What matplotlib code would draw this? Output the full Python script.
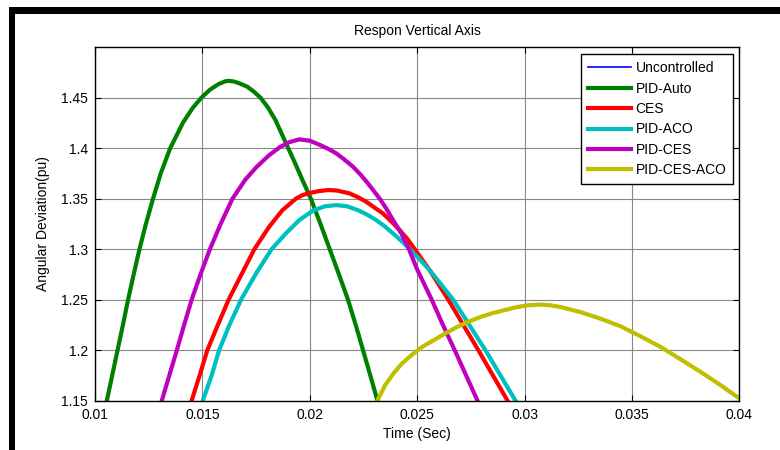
import matplotlib
matplotlib.use("Agg")
import matplotlib.pyplot as plt
from matplotlib.patches import Rectangle

plt.rcParams['font.family'] = ['Liberation Sans', 'DejaVu Sans']

# values (time in s, angular deviation in pu)
t_auto = [0.01055, 0.01080, 0.01105, 0.01130, 0.01154, 0.01180, 0.01207, 0.01237,
          0.01270, 0.01306, 0.01350, 0.01410, 0.01455, 0.01495, 0.01535, 0.01575,
          0.01605, 0.01620, 0.01645, 0.01670, 0.01709, 0.01740, 0.01771, 0.01805,
          0.01840, 0.01870, 0.01900, 0.01930, 0.01965, 0.02005, 0.02050, 0.02093,
          0.02136, 0.02178, 0.02214, 0.02248, 0.02282, 0.02315]
y_auto = [1.150, 1.175, 1.200, 1.225, 1.250, 1.275, 1.300, 1.325,
          1.350, 1.375, 1.400, 1.4255, 1.440, 1.450, 1.458, 1.4635,
          1.4662, 1.4668, 1.4662, 1.4645, 1.461, 1.456, 1.450, 1.4405,
          1.428, 1.414, 1.400, 1.386, 1.369, 1.350, 1.325, 1.300,
          1.275, 1.250, 1.225, 1.200, 1.175, 1.150]

t_ces = [0.01450, 0.01487, 0.01523, 0.01572, 0.01622, 0.01682, 0.01742, 0.01810,
         0.01872, 0.01935, 0.01965, 0.02000, 0.02040, 0.02084, 0.02125, 0.02185,
         0.02225, 0.02263, 0.02300, 0.02341, 0.02380, 0.02419, 0.02455, 0.02489,
         0.02559, 0.02645, 0.02715, 0.02785, 0.02853, 0.02921]
y_ces = [1.150, 1.175, 1.200, 1.225, 1.250, 1.275, 1.300, 1.322,
         1.3385, 1.350, 1.3535, 1.3557, 1.3575, 1.3586, 1.3582, 1.3553,
         1.3515, 1.347, 1.3415, 1.3354, 1.3275, 1.3189, 1.310, 1.300,
         1.279, 1.250, 1.225, 1.200, 1.175, 1.150]

t_aco = [0.01502, 0.01543, 0.01578, 0.01626, 0.01680, 0.01750, 0.01822, 0.01888,
         0.01952, 0.02017, 0.02070, 0.02123, 0.02175, 0.02224, 0.02265, 0.02310,
         0.02350, 0.02388, 0.02428, 0.02466, 0.02512, 0.02559, 0.02612, 0.02668,
         0.02743, 0.02818, 0.02888, 0.02958]
y_aco = [1.150, 1.175, 1.200, 1.225, 1.250, 1.276, 1.300, 1.3155,
         1.329, 1.3385, 1.3425, 1.3437, 1.3425, 1.3387, 1.3345, 1.3288,
         1.3225, 1.3156, 1.308, 1.300, 1.290, 1.279, 1.265, 1.250,
         1.225, 1.200, 1.175, 1.150]

t_pces = [0.01311, 0.01346, 0.01381, 0.01415, 0.01450, 0.01491, 0.01535, 0.01585,
          0.01640, 0.01700, 0.01753, 0.01810, 0.01862, 0.01905, 0.01950, 0.02000,
          0.02045, 0.02085, 0.02123, 0.02160, 0.02201, 0.02236, 0.02271, 0.02326,
          0.02357, 0.02388, 0.02428, 0.02462, 0.02500, 0.02568, 0.02620, 0.02675,
          0.02728, 0.02781]
y_pces = [1.150, 1.175, 1.200, 1.225, 1.250, 1.275, 1.300, 1.325,
          1.350, 1.369, 1.3816, 1.393, 1.4013, 1.406, 1.4088, 1.4075,
          1.4035, 1.3995, 1.395, 1.389, 1.3818, 1.374, 1.3652, 1.350,
          1.340, 1.3288, 1.315, 1.300, 1.280, 1.250, 1.225, 1.200,
          1.175, 1.150]

t_all = [0.02315, 0.02350, 0.02388, 0.02430, 0.02481, 0.02525, 0.02575, 0.02630,
         0.02684, 0.02738, 0.02793, 0.02848, 0.02902, 0.02960, 0.03015, 0.03074,
         0.03120, 0.03167, 0.03260, 0.03353, 0.03447, 0.03540, 0.03633, 0.03726,
         0.03819, 0.03912, 0.04000]
y_all = [1.150, 1.165, 1.1765, 1.187, 1.1964, 1.2035, 1.2096, 1.2165,
         1.2228, 1.2281, 1.2328, 1.2365, 1.2394, 1.2425, 1.2445, 1.2451,
         1.2445, 1.2428, 1.2378, 1.2313, 1.2237, 1.2138, 1.2033, 1.1911,
         1.1786, 1.1655, 1.1523]

x_ticks = [0.01, 0.015, 0.02, 0.025, 0.03, 0.035, 0.04]
x_labels = ['0.01', '0.015', '0.02', '0.025', '0.03', '0.035', '0.04']
y_ticks = [1.15, 1.2, 1.25, 1.3, 1.35, 1.4, 1.45]
y_labels = ['1.15', '1.2', '1.25', '1.3', '1.35', '1.4', '1.45']

fig = plt.figure(figsize=(7.8, 4.5), dpi=100)
ax = fig.add_axes([0.1218, 0.1096, 0.826, 0.7853])

ax.plot([], [], color='#0000ff', lw=1.2, label='Uncontrolled')
ax.plot(t_auto, y_auto, color='#008000', lw=3, label='PID-Auto')
ax.plot(t_ces, y_ces, color='#ff0000', lw=3, label='CES')
ax.plot(t_aco, y_aco, color='#00bfbf', lw=3, label='PID-ACO')
ax.plot(t_pces, y_pces, color='#bf00bf', lw=3, label='PID-CES')
ax.plot(t_all, y_all, color='#bfbf00', lw=3, label='PID-CES-ACO')

ax.set_xlim(0.01, 0.04)
ax.set_ylim(1.15, 1.5)
ax.set_xticks(x_ticks)
ax.set_xticklabels(x_labels)
ax.set_yticks(y_ticks)
ax.set_yticklabels(y_labels)
ax.tick_params(direction='in', length=4, width=0.8, labelsize=10,
               top=True, right=True, pad=5)
ax.grid(True, color='#888888', lw=0.8)
ax.set_axisbelow(True)
for s in ax.spines.values():
    s.set_linewidth(1.0)

ax.set_title('Respon Vertical Axis', fontsize=10, pad=9)
ax.set_xlabel('Time (Sec)', fontsize=10, labelpad=4)
ax.set_ylabel('Angular Deviation(pu)', fontsize=10, labelpad=8)

leg = ax.legend(loc='upper right', bbox_to_anchor=(0.991, 0.98), fontsize=10,
                frameon=True, fancybox=False, framealpha=1, edgecolor='black',
                handlelength=3.1, handletextpad=0.35, labelspacing=0.46,
                borderpad=0.5, borderaxespad=0)
leg.get_frame().set_linewidth(1.0)

# black frame pieces along the top and left edge of the image
fig.add_artist(Rectangle((0.0115, 0.9689), 1.0, 0.0156, transform=fig.transFigure,
                         color='black', lw=0))
fig.add_artist(Rectangle((0.0115, 0.0), 0.0077, 0.9844, transform=fig.transFigure,
                         color='black', lw=0))

fig.savefig('out.png', dpi=100)
